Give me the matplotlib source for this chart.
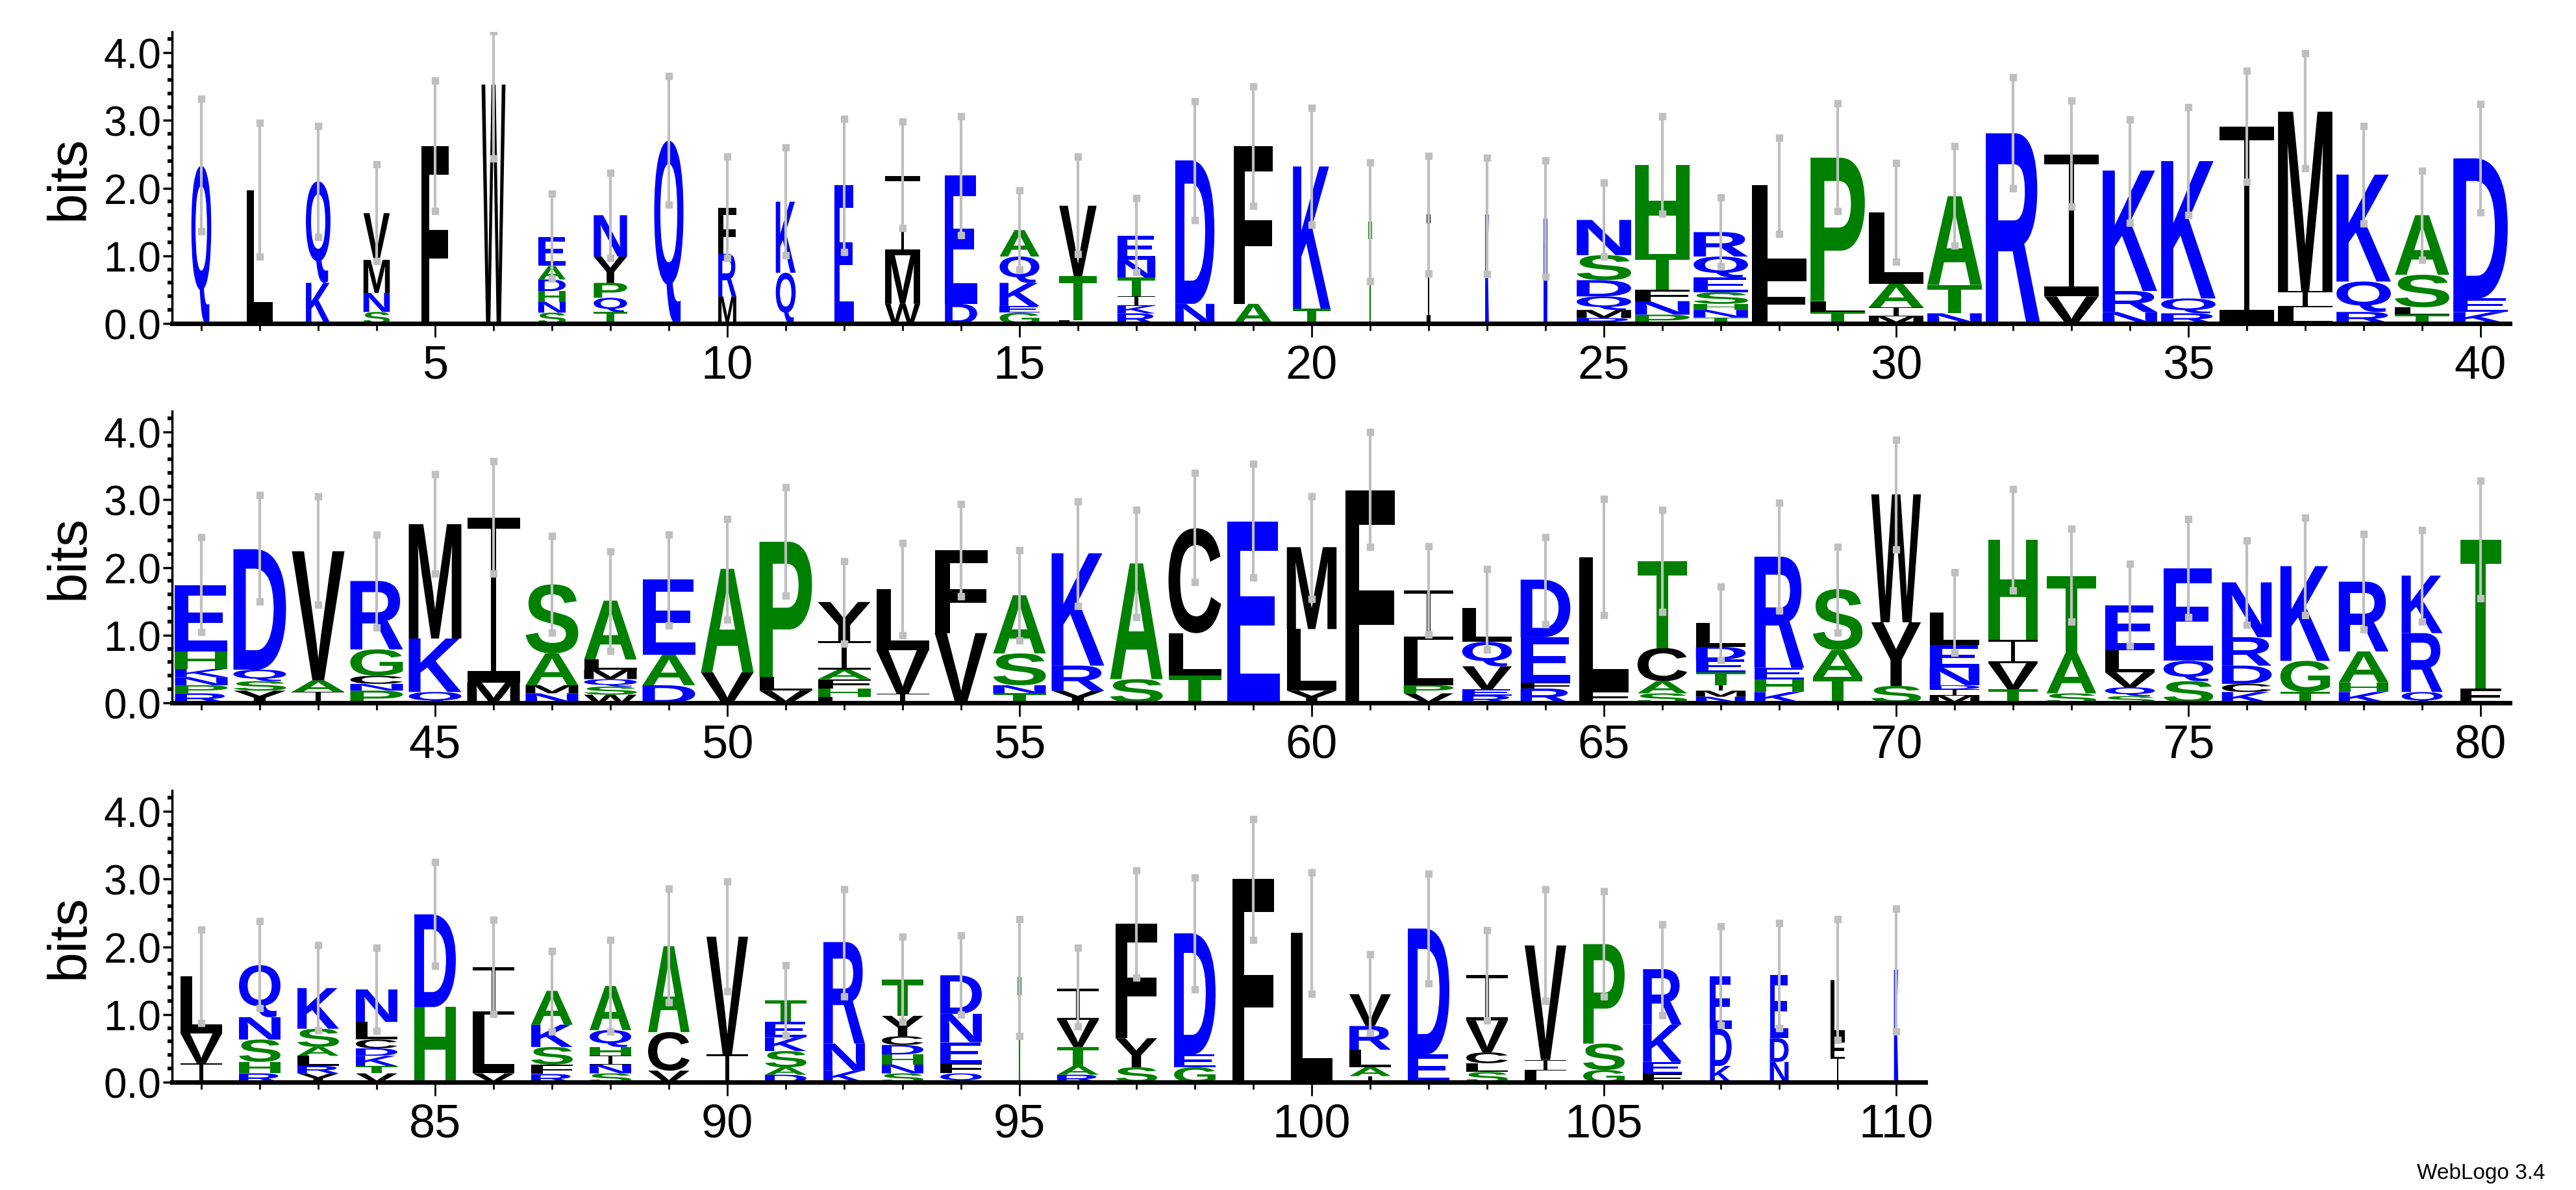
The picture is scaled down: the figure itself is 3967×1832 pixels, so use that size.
import matplotlib
matplotlib.use("Agg")
import matplotlib.pyplot as plt
import numpy as np
from matplotlib.textpath import TextPath
from matplotlib.font_manager import FontProperties
from matplotlib.patches import PathPatch
from matplotlib.path import Path
from matplotlib.transforms import Affine2D, Bbox
import matplotlib.ticker as ticker

# stacks bottom -> top, "letter height" in bits
stacks = [
    "Q2.33", "L1.97", "K0.6 Q1.5", "S0.17 N0.28 M0.49 V0.69", "F2.62", "W3.53",
    "S0.16 N0.16 H0.16 D0.17 A0.2 E0.43", "T0.17 Q0.21 P0.22 Y0.39 N0.61", "Q2.7",
    "M0.4 R0.63 F0.68", "Q0.75 K1.05", "E2.04", "W0.29 M0.72 I1.17", "D0.29 E1.9",
    "G0.16 E0.1 K0.34 Q0.39 A0.39", "L0.05 T0.65 V1.04", "R0.15 K0.11 I0.14 T0.28 N0.26 E0.36",
    "N0.29 D2.12", "A0.29 F2.33", "T0.22 K2.1", "T1.5", "I1.6", "K1.6", "N1.54",
    "R0.08 M0.12 Q0.2 D0.24 S0.37 N0.52", "P0.13 N0.2 F0.17 T0.53 H1.31",
    "T0.09 N0.11 H0.09 S0.17 E0.22 Q0.31 R0.36", "F0.75 L1.29", "T0.17 L0.16 P2.12",
    "M0.11 I0.13 A0.35 L1.05", "N0.15 T0.42 A1.31", "R2.81", "V0.4 I2.1", "N0.17 R0.31 K1.78",
    "R0.15 Q0.22 K2.03", "I2.91", "L0.24 I0.24 M2.65", "R0.17 Q0.45 K1.58",
    "T0.13 L0.11 S0.48 A0.88", "K0.17 E0.2 D2.07",
    # 41-80
    "R0.14 P0.12 N0.12 K0.12 H0.26 E0.98", "Y0.18 S0.14 Q0.17 D1.78", "I0.16 A0.17 V1.91",
    "P0.18 N0.1 C0.12 G0.39 R1.01", "Q0.16 K0.79 M1.69", "M0.3 I2.44",
    "N0.14 M0.12 A0.47 S1.02", "W0.12 S0.12 Q0.11 M0.14 L0.15 A0.87", "D0.26 A0.45 E1.11",
    "V0.45 A1.53", "V0.18 L0.2 P2.0", "L0.09 H0.12 F0.14 A0.14 I0.42 Y0.58",
    "I0.13 V0.65 L0.9", "V1.03 F1.23", "T0.14 N0.12 S0.47 A0.86", "Y0.18 R0.37 K1.66",
    "S0.35 A1.71", "T0.4 L0.63 C1.55", "E2.68", "Y0.18 L0.91 M1.21", "F3.14",
    "V0.14 P0.12 L0.67 I0.73", "R0.11 E0.09 V0.34 Q0.36 L0.5", "R0.21 F0.09 E0.67 D0.85",
    "F0.18 L1.97", "S0.14 A0.18 C0.49 T1.28", "N0.09 M0.09 I0.08 T0.19 E0.19 D0.19 L0.35",
    "K0.16 H0.19 E0.17 R1.64", "T0.38 A0.4 S0.9", "S0.25 Y0.94 W1.89",
    "M0.11 I0.09 D0.06 N0.26 E0.33 L0.48", "T0.2 V0.39 I0.34 H1.48", "S0.14 A0.59 T1.14",
    "S0.1 Q0.13 V0.22 L0.33 E0.66", "S0.32 Q0.3 E1.37", "K0.16 C0.12 D0.27 R0.42 N0.81",
    "T0.16 G0.46 K1.4", "K0.16 H0.14 A0.46 R1.03", "Q0.16 R0.87 K0.85", "F0.21 T2.2",
    # 81-110
    "I0.28 V0.44 L0.84", "R0.13 H0.17 S0.33 N0.33 Q0.77", "Y0.13 R0.11 L0.15 A0.13 S0.27 K0.6",
    "V0.13 T0.11 K0.15 D0.11 C0.13 L0.26 N0.48", "H1.11 D1.37", "V0.13 L0.87 I0.7",
    "R0.12 F0.14 S0.26 K0.33 A0.5", "S0.13 N0.13 I0.13 H0.13 Q0.25 A0.65", "V0.17 C0.57 A1.27",
    "I0.41 V1.74", "D0.11 A0.11 S0.24 K0.2 E0.23 T0.32", "K0.17 N0.4 R1.5",
    "S0.13 N0.13 H0.15 D0.14 C0.13 Y0.3 T0.54", "Q0.13 F0.15 E0.31 N0.42 D0.57", "T1.55",
    "R0.11 A0.13 T0.28 V0.4 I0.46", "S0.22 Y0.43 F1.69", "G0.22 E0.19 D1.79", "F3.0", "L2.21",
    "I0.09 A0.13 L0.26 R0.35 V0.47", "E0.41 D1.86", "S0.15 L0.13 C0.16 V0.47 I0.67",
    "L0.17 I0.16 V1.69", "G0.18 S0.39 P1.47", "F0.13 E0.17 K0.55 R0.82", "K0.24 D0.55 E0.77",
    "N0.3 D0.35 E0.93", "I0.37 F0.26 L0.88", "K1.65",
]

err_lo = [1.36, 0.99, 1.28, 0.92, 1.66, 2.44, 0.66, 0.97, 1.76, 0.97, 1.01, 1.06, 1.41, 1.31, 0.8,
          1.03, 0.76, 1.53, 1.74, 1.46, 0.62, 0.74, 0.73, 0.69, 0.99, 1.62, 0.84, 1.32, 1.66, 0.91,
          1.15, 2.0, 1.73, 1.49, 1.6, 2.09, 2.29, 1.48, 0.94, 1.64,
          1.05, 1.5, 1.45, 1.11, 1.91, 1.91, 1.04, 0.77, 1.14, 1.23, 1.58, 0.87, 1.0, 1.57, 0.92,
          1.43, 1.27, 1.79, 1.85, 1.54, 2.3, 1.01, 0.79, 1.16, 1.3, 1.34, 0.63, 1.36, 1.04, 2.27,
          0.74, 1.66, 1.2, 0.84, 1.27, 1.15, 1.3, 1.08, 1.2, 1.55,
          0.87, 1.09, 0.77, 0.76, 1.72, 1.01, 0.75, 0.75, 1.18, 1.34, 0.69, 1.27, 0.89, 1.0, 0.68,
          0.83, 1.55, 1.37, 2.1, 1.31, 0.73, 1.46, 0.91, 1.2, 1.27, 0.99, 0.84, 0.8, 0.62, 0.75]
err_hi = [3.32, 2.97, 2.92, 2.35, 3.59, 4.32, 1.92, 2.23, 3.66, 2.47, 2.6, 3.02, 2.99, 3.06, 1.97,
          2.47, 1.85, 3.28, 3.5, 3.19, 2.38, 2.48, 2.45, 2.41, 2.08, 3.06, 1.86, 2.75, 3.25, 2.37,
          2.62, 3.64, 3.29, 3.01, 3.2, 3.73, 3.99, 2.92, 2.26, 3.24,
          2.45, 3.07, 3.05, 2.49, 3.38, 3.57, 2.47, 2.24, 2.49, 2.72, 3.19, 2.09, 2.36, 2.94, 2.26,
          2.98, 2.85, 3.4, 3.53, 3.05, 4.0, 2.31, 1.98, 2.45, 3.01, 2.85, 1.72, 2.96, 2.3, 3.89,
          1.93, 3.16, 2.57, 2.05, 2.72, 2.4, 2.74, 2.5, 2.55, 3.28,
          2.26, 2.38, 2.03, 1.99, 3.25, 2.4, 1.94, 2.1, 2.86, 2.97, 1.73, 2.85, 2.15, 2.17, 2.41,
          1.99, 3.13, 3.02, 3.89, 3.1, 1.89, 3.08, 2.25, 2.85, 2.82, 2.33, 2.3, 2.35, 2.41, 2.56]

# stack width as fraction of column spacing
widths = ([0.34, 0.45, 0.42, 0.45, 0.47, 0.41, 0.47, 0.57, 0.5, 0.31, 0.34, 0.34, 0.6, 0.55, 0.68,
           0.64, 0.65, 0.67, 0.67, 0.64, 0.04, 0.04, 0.04, 0.04] + [0.93] * 16
          + [0.9] * 19 + [0.85] * 19 + [0.7, 0.7]
          + [0.71] * 14 + [0.04] + [0.71] * 10 + [0.66, 0.37, 0.32, 0.24, 0.05])

colors = {}
for c in "KRDENQ":
    colors[c] = "#0000ff"
for c in "ASTPGH":
    colors[c] = "#008000"
for c in "CYFWMILV":
    colors[c] = "#000000"

letter_font = FontProperties(family="Liberation Sans", weight="bold")

# serif-style I, like the logo font
bar, stem = 0.07, 0.045
i_path = Path.make_compound_path(
    Path([(0, 0), (1, 0), (1, bar), (0, bar), (0, 0)], closed=True),
    Path([(0.5 - stem, bar), (0.5 + stem, bar), (0.5 + stem, 1 - bar), (0.5 - stem, 1 - bar),
          (0.5 - stem, bar)], closed=True),
    Path([(0, 1 - bar), (1, 1 - bar), (1, 1), (0, 1), (0, 1 - bar)], closed=True))

glyphs = {}
def glyph(ch):
    if ch not in glyphs:
        if ch == "I":
            glyphs[ch] = (i_path, Bbox([[0, 0], [1, 1]]))
        else:
            p = TextPath((0, 0), ch, size=100, prop=letter_font)
            glyphs[ch] = (p, p.get_extents())
    return glyphs[ch]

def draw_letter(ax, ch, x, y, w, h):
    p, ext = glyph(ch)
    tr = (Affine2D().translate(-ext.x0, -ext.y0)
          .scale(w / ext.width, h / ext.height)
          .translate(x - w / 2, y))
    thin = w < 0.1
    ax.add_patch(PathPatch(tr.transform_path(p), facecolor=colors[ch],
                           edgecolor=colors[ch], lw=1.5 if thin else 0))

fig = plt.figure(figsize=(39.67, 18.33), dpi=100)
W, H = 3967, 1833
rows = [(1, 40, 499), (41, 80, 1083), (81, 110, 1667)]
for start, end, y0 in rows:
    n = end - start + 1
    ax = fig.add_axes([265 / W, (H - y0) / H, n * 90 / W, 449 / H])
    for pos in range(start, end + 1):
        i = pos - 1
        w = widths[i]
        y = 0.0
        for tok in stacks[i].split():
            ch, h = tok[0], float(tok[1:])
            draw_letter(ax, ch, pos, y, w, h)
            y += h
        ax.plot([pos, pos], [err_lo[i], err_hi[i]], color="#bfbfbf", lw=3, zorder=3)
        ax.plot([pos, pos], [err_lo[i], err_hi[i]], ls="none", marker="s", ms=7,
                color="#bfbfbf", zorder=3)
    ax.set_xlim(start - 0.5, end + 0.5)
    ax.set_ylim(0, 4.31)
    for s in ["top", "right"]:
        ax.spines[s].set_visible(False)
    ax.spines["bottom"].set_linewidth(5)
    ax.spines["left"].set_linewidth(2.5)
    ax.xaxis.set_major_locator(ticker.FixedLocator([p for p in range(start, end + 1) if p % 5 == 0]))
    ax.xaxis.set_minor_locator(ticker.FixedLocator(list(range(start, end + 1))))
    ax.yaxis.set_major_locator(ticker.MultipleLocator(1.0))
    ax.yaxis.set_minor_locator(ticker.MultipleLocator(0.2))
    ax.yaxis.set_major_formatter(ticker.FormatStrFormatter("%.1f"))
    ax.tick_params(axis="x", which="major", length=15, width=2, labelsize=52, pad=8)
    ax.tick_params(axis="x", which="minor", length=8, width=2)
    ax.tick_params(axis="y", which="major", length=10, width=2.5, labelsize=46, pad=2)
    ax.tick_params(axis="y", which="minor", length=5, width=4)
    for lab in ax.get_xticklabels() + ax.get_yticklabels():
        lab.set_family("Liberation Sans")
    ax.set_ylabel("bits", fontsize=60, labelpad=10, family="Liberation Sans")

fig.text(0.988, 0.006, "WebLogo 3.4", ha="right", va="bottom", fontsize=24, family="Liberation Sans")
fig.savefig("out.png", dpi=100)
